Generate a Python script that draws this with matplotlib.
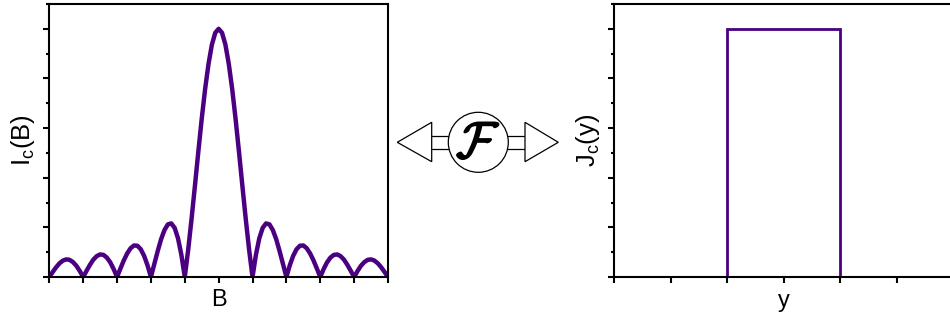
import numpy as np
import matplotlib
matplotlib.use("Agg")
import matplotlib.pyplot as plt
import matplotlib.patheffects as pe
from matplotlib.patches import Circle, Polygon, Rectangle
from matplotlib.ticker import MultipleLocator

plt.rcParams['font.family'] = ['Liberation Sans', 'DejaVu Sans']
plt.rcParams['mathtext.fontset'] = 'custom'
plt.rcParams['mathtext.rm'] = 'Liberation Sans'
plt.rcParams['mathtext.it'] = 'Liberation Sans'

# Fraunhofer pattern, B >= 0 half (pattern is symmetric about B = 0)
b_step = 0.1
ic_half = [1.000, 0.984, 0.936, 0.858, 0.757, 0.637, 0.505, 0.368, 0.234, 0.109,
           0.000, 0.089, 0.156, 0.198, 0.216, 0.212, 0.189, 0.152, 0.104, 0.052,
           0.000, 0.047, 0.085, 0.112, 0.126, 0.127, 0.116, 0.095, 0.067, 0.034,
           0.000, 0.032, 0.059, 0.078, 0.089, 0.091, 0.084, 0.070, 0.049, 0.025,
           0.000, 0.024, 0.045, 0.060, 0.069, 0.071, 0.066, 0.055, 0.039, 0.020,
           0.000]

# uniform current density across the junction
y_edges = [-3, -1, 1, 3]
jc_vals = [0, 1, 0]

purple = '#4b0082'

ic_vals = ic_half[::-1] + ic_half[1:]
n = len(ic_half) - 1
b_vals = np.arange(-n, n + 1) * b_step

fig = plt.figure(figsize=(9.5, 3.21), dpi=100)
W, H = 950, 321


def px_axes(x0, y0, x1, y1):
    return fig.add_axes([x0 / W, 1 - y1 / H, (x1 - x0) / W, (y1 - y0) / H])


def style(ax):
    for s in ax.spines.values():
        s.set_linewidth(1.5)
    ax.tick_params(which='major', direction='out', length=4, width=1.5,
                   labelbottom=False, labelleft=False)
    ax.tick_params(which='minor', direction='out', length=2.2, width=1.5)
    ax.set_ylim(0, 1.1)
    ax.yaxis.set_major_locator(MultipleLocator(0.2))
    ax.yaxis.set_minor_locator(MultipleLocator(0.1))


ax1 = px_axes(49.3, 4, 388, 277)
ax1.plot(b_vals, ic_vals, color=purple, lw=3.2)
ax1.set_xlim(-5, 5)
ax1.xaxis.set_major_locator(MultipleLocator(1))
style(ax1)
ax1.set_xlabel('B', fontsize=17, labelpad=5)
ax1.set_ylabel(r'I$_\mathrm{c}$(B)', fontsize=18.5, labelpad=3)

ax2 = px_axes(614.3, 4, 953, 277)
ax2.stairs(jc_vals, y_edges, color=purple, lw=2)
ax2.set_xlim(-3, 3)
ax2.xaxis.set_major_locator(MultipleLocator(1))
style(ax2)
ax2.set_xlabel('y', fontsize=17, labelpad=5)
ax2.set_ylabel(r'J$_\mathrm{c}$(y)', fontsize=18.5, labelpad=3)

# Fourier transform symbol between the panels
ov = fig.add_axes([0, 0, 1, 1])
ov.set_xlim(0, W)
ov.set_ylim(H, 0)
ov.axis('off')
cx, cy, r = 478.3, 142.3, 30
kw = dict(facecolor='white', edgecolor='black', lw=0.9)
ov.add_patch(Rectangle((430, 135.7), cx - 430, 13.3, **kw))
ov.add_patch(Rectangle((cx, 135.7), 527 - cx, 13.3, **kw))
ov.add_patch(Circle((cx, cy), r, **kw))
ov.add_patch(Polygon([(397.3, cy), (431.7, 122.3), (431.7, 161.7)], closed=True, **kw))
ov.add_patch(Polygon([(558.3, cy), (525, 122.3), (525, 161.7)], closed=True, **kw))
ov.text(cx, cy + 2, r'$\mathcal{F}$', fontsize=37, ha='center', va='center',
        math_fontfamily='cm',
        path_effects=[pe.withStroke(linewidth=1.2, foreground='black')])

fig.savefig('out.png', dpi=100)
